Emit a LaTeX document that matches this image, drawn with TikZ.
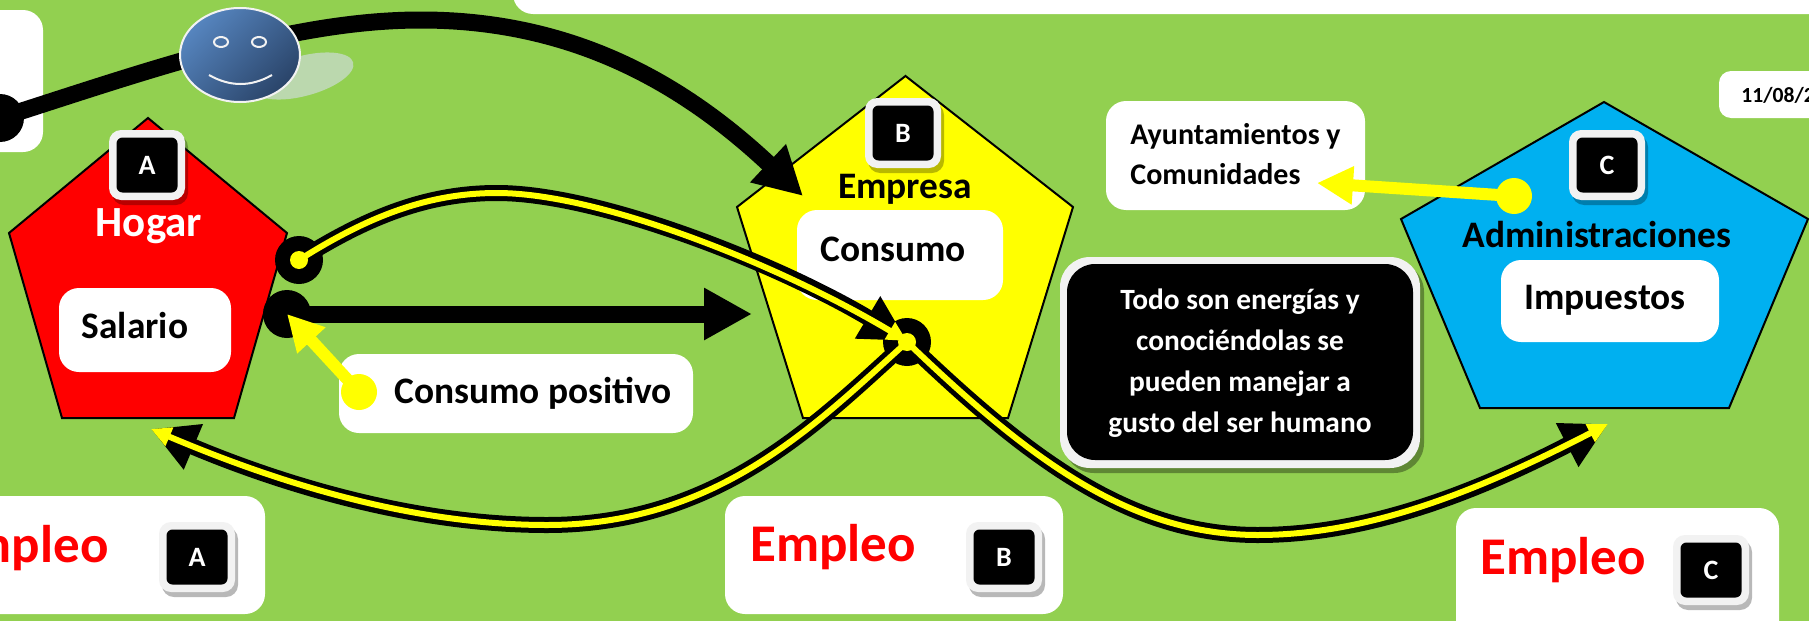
\documentclass[tikz,border=0pt]{standalone}
\usepackage{fontspec}
\setmainfont{Carlito}
\usetikzlibrary{arrows.meta,fit,shapes.geometric}
\definecolor{bggreen}{HTML}{92D050}
\definecolor{skyblue}{HTML}{00B0F0}
\definecolor{pureyellow}{HTML}{FFFF00}
\definecolor{purered}{HTML}{FF0000}
\definecolor{rimgrey}{HTML}{F2F2F2}
\definecolor{faceA}{HTML}{5685BF}
\definecolor{faceB}{HTML}{2A4469}
\definecolor{shadowpale}{HTML}{BBD8AE}
\tikzset{
  penta/.style={draw=black,line width=1pt,line join=miter},
  whitebox/.style={fill=white,draw=none,inner sep=0pt,rounded corners=10pt},
  rimbox/.style={fill=rimgrey,draw=none,inner sep=0pt,rounded corners=15pt},
  inkbox/.style={fill=black,draw=none,inner sep=0pt,rounded corners=14pt},
  boxshade/.style={fill=black,fill opacity=.35,draw=none,inner sep=0pt,rounded corners=15pt},
  badgeshade/.style={fill=black,fill opacity=.28,draw=none,minimum width=38pt,minimum height=35pt,inner sep=0pt,rounded corners=6pt},
  badgerim/.style={fill=rimgrey,draw=none,minimum width=38pt,minimum height=35pt,inner sep=0pt,rounded corners=6pt},
  badgeink/.style={fill=black,text=white,draw=none,minimum width=30.5pt,minimum height=27.5pt,inner sep=0pt,rounded corners=3pt,font=\fontsize{14pt}{16pt}\bfseries},
  titletext/.style={inner sep=0pt,font=\fontsize{18.7pt}{22pt}\bfseries},
  boxtext/.style={inner sep=0pt,font=\fontsize{18.7pt}{22pt}\bfseries},
  redtext/.style={inner sep=0pt,text=purered,font=\fontsize{26.5pt}{32pt}\bfseries},
  blackdot/.style={circle,fill=black,draw=none,minimum size=24pt,inner sep=0pt},
  yellowcore/.style={circle,fill=pureyellow,draw=none,minimum size=9pt,inner sep=0pt},
  yellowdot/.style={circle,fill=pureyellow,draw=none,minimum size=18pt,inner sep=0pt},
  heavyline/.style={draw=black,line width=8.5pt},
  heavyarrow/.style={heavyline,-{Triangle[length=24pt,width=24.5pt]}},
  sunline/.style={draw=pureyellow,line width=6pt,-{Triangle[length=18pt,width=18pt]}},
  railblack/.style={draw=black,line width=8pt,-{Triangle[length=23pt,width=23pt]}},
  railyellow/.style={draw=pureyellow,line width=3pt,-{Triangle[length=10pt,width=9.5pt]}},
  eye/.style={ellipse,draw=rimgrey,line width=1pt,minimum width=7pt,minimum height=5pt,inner sep=0pt},
}
\newcommand{\mybadge}[4]{%
  \node[badgeshade] (#1s) at (#2+3,#3+5) {};
  \node[badgerim] (#1r) at (#2,#3) {};
  \node[badgeink] (#1) at (#2,#3) {\raisebox{-2pt}{#4}};
}
\begin{document}
\begin{tikzpicture}[x=.5pt,y=-.5pt]
\useasboundingbox (0,0) rectangle (1809,621);
\clip (0,0) rectangle (1809,621);
\fill[bggreen] (0,0) rectangle (1809,621);
% white panels at the frame
\node[whitebox,fit={(-40,10)(43,152)}] (panelL) {};
\node[whitebox,fit={(513,-40)(1850,14)}] (panelT) {};
\node[whitebox,rounded corners=6pt,fit={(1719,71)(1850,118)}] (panelD) {};
\node[inner sep=0pt,anchor=west,font=\fontsize{10.8pt}{13pt}\bfseries] (dateT) at (1741,95) {11/08/2};
% pentagons
\draw[penta,fill=purered] (148,118) -- (287,233) -- (234,418) -- (62,418) -- (9,233) -- cycle;
\draw[penta,fill=pureyellow] (905.5,76) -- (1073,207) -- (1008,418) -- (803,418) -- (737,207) -- cycle;
\draw[penta,fill=skyblue] (1604,102) -- (1808,219) -- (1729,408) -- (1480,408) -- (1401,219) -- cycle;
% inner boxes
\node[whitebox,fit={(59,288)(231,372)}] (salB) {};
\node[boxtext] (salT) at (135,326) {Salario};
\node[whitebox,fit={(797,210)(1003,300)}] (conB) {};
\node[boxtext] (conT) at (893,249) {Consumo};
\node[whitebox,fit={(1501,260)(1719,342)}] (impB) {};
\node[boxtext] (impT) at (1605,300) {Impuestos};
\node[whitebox,fit={(1106,101)(1365,210)}] (ayuB) {};
\node[inner sep=0pt,align=left,anchor=west,font=\fontsize{15pt}{20pt}\bfseries] (ayuT) at (1130,154) {Ayuntamientos y\\Comunidades};
\node[whitebox,fit={(339,354)(693,433)}] (posB) {};
\node[boxtext] (posT) at (533,393) {Consumo positivo};
% titles
\node[titletext,text=white,font=\fontsize{21.5pt}{25pt}\bfseries] (hogT) at (149,226) {Hogar};
\node[titletext] (empT) at (905,189) {Empresa};
\node[titletext] (admT) at (1597,235) {Administraciones};
% black note
\node[boxshade,fit={(1064,262)(1424,473)}] (noteS) {};
\node[rimbox,fit={(1060,257)(1420,468)}] (noteR) {};
\node[inkbox,fit={(1067,264)(1413,460)}] (noteB) {};
\node[inner sep=0pt,text=white,align=center,font=\fontsize{14.7pt}{20.5pt}\bfseries] (noteT) at (1240,363) {Todo son energ\'ias y\\conoci\'endolas se\\pueden manejar a\\gusto del ser humano};
% Empleo panels
\node[whitebox,fit={(-40,496)(265,614)}] (empA) {};
\node[whitebox,fit={(725,496)(1063,614)}] (empB) {};
\node[whitebox,fit={(1456,508)(1779,660)}] (empC) {};
\node[redtext,anchor=east] (empAT) at (109,548) {Empleo};
\node[redtext] (empBT) at (833,547) {Empleo};
\node[redtext] (empCT) at (1563,560) {Empleo};
% badges
\mybadge{badgeA}{147}{165}{A}
\mybadge{badgeB}{903}{133}{B}
\mybadge{badgeC}{1607}{165}{C}
\mybadge{badgeD}{197}{557}{A}
\mybadge{badgeE}{1004}{557}{B}
\mybadge{badgeF}{1711}{570}{C}
% anchors of the connectors
\node[blackdot] (dotL) at (0,118) {};
\node[blackdot] (dotH) at (299,260) {};
\node[blackdot] (dotS) at (287,314) {};
\coordinate (tipE) at (803,196);
\coordinate (tipM) at (752,314);
\coordinate (tipC) at (907,341);
\coordinate (tipA) at (151,429);
\coordinate (tipB) at (1608,424);
\coordinate (topPeak) at (421,20);
\coordinate (upPeak) at (497,193);
\coordinate (lowA) at (547,525);
\coordinate (lowB) at (1258,535);
% thick black connectors
\path[heavyarrow] (dotL.center) .. controls (150,70) and (290,20) .. (topPeak) .. controls (580,20) and (690,90) .. (tipE);
\path[heavyarrow] (dotS.center) -- (tipM);
% yellow rails
\node[blackdot] (dotM) at (907,342) {};
\path[railblack] (dotH.center) .. controls (370,215) and (430,193) .. (upPeak) .. controls (600,193) and (780,265) .. (tipC);
\path[railblack] (dotM.center) .. controls (820,420) and (720,525) .. (lowA) .. controls (400,525) and (260,475) .. (tipA);
\path[railblack] (dotM.center) .. controls (1030,460) and (1130,535) .. (lowB) .. controls (1370,535) and (1480,490) .. (tipB);
\path[railyellow] (dotH.center) .. controls (370,215) and (430,193) .. (upPeak) .. controls (600,193) and (780,265) .. (tipC);
\path[railyellow] (dotM.center) .. controls (820,420) and (720,525) .. (lowA) .. controls (400,525) and (260,475) .. (tipA);
\path[railyellow] (dotM.center) .. controls (1030,460) and (1130,535) .. (lowB) .. controls (1370,535) and (1480,490) .. (tipB);
\node[yellowcore] (coreH) at (dotH) {};
\node[yellowcore] (coreM) at (dotM) {};
% yellow pointers
\node[yellowdot] (dotP) at (359,392) {};
\path[sunline] (dotP.center) -- (dotS.center);
\node[yellowdot] (dotA) at (1514,196) {};
\coordinate (tipY) at (1317,183);
\path[sunline] (dotA.center) -- (tipY);
% smiley
\node[ellipse,fill=shadowpale,draw=none,minimum width=52pt,minimum height=20pt,inner sep=0pt,rotate=15] (shadowF) at (303,76) {};
\node[ellipse,draw=rimgrey,line width=1pt,top color=faceA,bottom color=faceB,shading angle=45,minimum width=60pt,minimum height=47pt,inner sep=0pt] (face) at (240,55) {};
\node[eye] (eyeL) at (221,42) {};
\node[eye] (eyeR) at (259,42) {};
\coordinate (smileL) at (209,75);
\coordinate (smileR) at (272,75);
\draw[rimgrey,line width=1pt] (smileL) .. controls (230,87) and (251,87) .. (smileR);
\end{tikzpicture}
\end{document}
